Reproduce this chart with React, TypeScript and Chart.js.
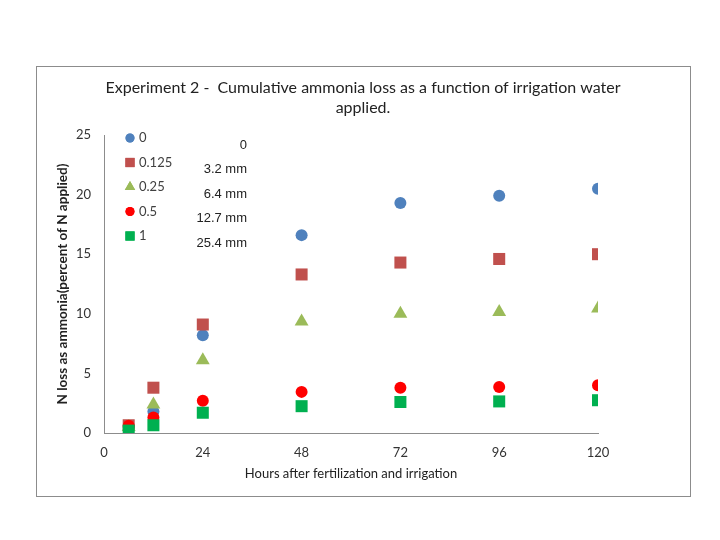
import React, { useEffect, useRef } from "react";
import { Chart, registerables } from "chart.js";
import { drawPoint } from "chart.js/helpers";

Chart.register(...registerables);

const hours = [6, 12, 24, 48, 72, 96, 120];
const seriesNames = ["0", "0.125", "0.25", "0.5", "1"];
const irrigationLabels = ["0", "3.2 mm", "6.4 mm", "12.7 mm", "25.4 mm"];
const loss0 = [0.5, 1.8, 8.2, 16.6, 19.3, 19.9, 20.5];
const loss0125 = [0.65, 3.8, 9.1, 13.3, 14.3, 14.6, 15.0];
const loss025 = [0.5, 2.4, 6.1, 9.35, 10.0, 10.15, 10.45];
const loss05 = [0.6, 1.3, 2.7, 3.45, 3.8, 3.85, 4.0];
const loss1 = [0.2, 0.65, 1.7, 2.25, 2.6, 2.65, 2.75];
const seriesValues = [loss0, loss0125, loss025, loss05, loss1];
const seriesColors = ["#4F81BD", "#C0504D", "#9BBB59", "#FF0000", "#00B050"];
const seriesShapes = ["circle", "rect", "triangle", "circle", "rect"];
const plotRadius = [6, 8.5, 8, 6, 8.5];
const legendRadius = [4.5, 6.5, 6, 4.5, 6.5];
const xTicks = [0, 24, 48, 72, 96, 120];
const yTicks = [0, 5, 10, 15, 20, 25];

const FONT = "Lato, 'Open Sans', sans-serif";

const frameAndLegend = {
  id: "frameAndLegend",
  beforeDraw(chart: any) {
    const ctx = chart.ctx;
    ctx.save();
    ctx.fillStyle = "#ffffff";
    ctx.fillRect(0, 0, chart.width, chart.height);
    ctx.strokeStyle = "#8c8c8c";
    ctx.lineWidth = 1;
    ctx.strokeRect(36.5, 66.5, 654, 430);
    ctx.restore();
  },
  afterDraw(chart: any) {
    const ctx = chart.ctx;
    const area = chart.chartArea;
    ctx.save();
    chart.data.datasets.forEach((ds: any, i: number) => {
      const y = area.top + 3 + i * 24.5;
      const x = area.left + 26;
      ctx.fillStyle = ds.backgroundColor;
      ctx.strokeStyle = ds.backgroundColor;
      ctx.lineWidth = 0;
      drawPoint(ctx, { pointStyle: ds.pointStyle, radius: legendRadius[i], rotation: 0, borderWidth: 0 }, x, y);
      ctx.fill();
      ctx.fillStyle = "#404040";
      ctx.font = `13px ${FONT}`;
      ctx.textAlign = "left";
      ctx.textBaseline = "middle";
      ctx.fillText(ds.label, x + 9, y);
      ctx.font = "13px 'Liberation Sans', Arial, sans-serif";
      ctx.textAlign = "right";
      ctx.fillStyle = "#222222";
      ctx.fillText(irrigationLabels[i], area.left + 143, y + 7);
    });
    ctx.restore();
  },
};

export default function App() {
  const ref = useRef<HTMLCanvasElement>(null);
  useEffect(() => {
    if (!ref.current) return;
    const chart = new Chart(ref.current, {
      type: "scatter",
      data: {
        datasets: seriesNames.map((name, i) => ({
          label: name,
          data: hours.map((h, j) => ({ x: h, y: seriesValues[i][j] })),
          backgroundColor: seriesColors[i],
          borderColor: seriesColors[i],
          borderWidth: 0,
          pointStyle: seriesShapes[i],
          pointRadius: plotRadius[i],
          pointHoverRadius: plotRadius[i],
          order: seriesNames.length - 1 - i,
        })),
      },
      plugins: [frameAndLegend],
      options: {
        animation: false,
        responsive: false,
        events: [],
        layout: { padding: { left: 36, right: 30, top: 66, bottom: 56 } },
        plugins: {
          legend: { display: false },
          tooltip: { enabled: false },
          title: {
            display: true,
            text: [
              "Experiment 2 -  Cumulative ammonia loss as a function of irrigation water",
              "applied.",
            ],
            color: "#222222",
            font: { family: FONT, size: 16, weight: "normal", lineHeight: 1.25 },
            padding: { top: 12, bottom: 17 },
          },
        },
        scales: {
          x: {
            type: "linear",
            min: 0,
            max: 120,
            afterBuildTicks: (scale: any) => {
              scale.ticks = xTicks.map((v) => ({ value: v }));
            },
            afterFit: (scale: any) => {
              scale.height = 51;
            },
            grid: { display: false, drawTicks: false },
            border: { display: true, color: "#8c8c8c", width: 1 },
            ticks: { color: "#333333", font: { family: FONT, size: 13 }, padding: 12, maxRotation: 0 },
            title: {
              display: true,
              text: "Hours after fertilization and irrigation",
              color: "#222222",
              font: { family: FONT, size: 13 },
              padding: { top: 4, bottom: 2 },
            },
          },
          y: {
            min: 0,
            max: 25,
            afterBuildTicks: (scale: any) => {
              scale.ticks = yTicks.map((v) => ({ value: v }));
            },
            afterFit: (scale: any) => {
              scale.width = 68;
            },
            grid: { display: false, drawTicks: false },
            border: { display: true, color: "#8c8c8c", width: 1 },
            ticks: { color: "#333333", font: { family: FONT, size: 13 }, padding: 13 },
            title: {
              display: true,
              text: "N loss as ammonia(percent of N applied)",
              color: "#222222",
              font: { family: FONT, size: 13.5, weight: "bold" },
              padding: { top: 19, bottom: 0 },
            },
          },
          spacer: {
            type: "linear",
            position: "right",
            display: true,
            min: 0,
            max: 1,
            afterFit: (scale: any) => {
              scale.width = 92;
            },
            grid: { display: false, drawTicks: false },
            border: { display: false },
            ticks: { display: false },
          },
        },
      },
    });
    return () => chart.destroy();
  }, []);
  return (
    <div style={{ position: "fixed", left: 0, top: 0, width: 720, height: 540, background: "#fff" }}>
      <canvas ref={ref} width={720} height={540} style={{ width: 720, height: 540, display: "block" }} />
    </div>
  );
}
